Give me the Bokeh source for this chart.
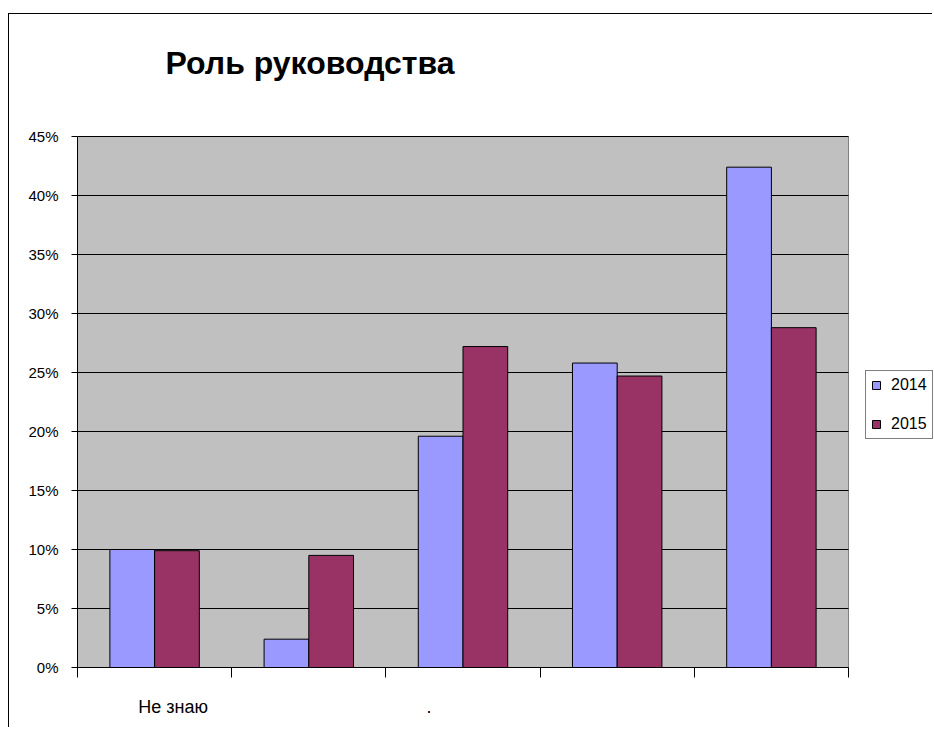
from bokeh.plotting import figure
from bokeh.models import (Range1d, FixedTicker, NumeralTickFormatter, Legend, LegendItem, Label)
from bokeh.embed import file_html
from bokeh.resources import INLINE

# ---- data ----
categories = ["Не знаю", "", ".", "", ""]
series_names = ["2014", "2015"]
values_2014 = [0.100, 0.024, 0.196, 0.258, 0.424]
values_2015 = [0.099, 0.095, 0.272, 0.247, 0.288]
y_ticks = [0, 0.05, 0.10, 0.15, 0.20, 0.25, 0.30, 0.35, 0.40, 0.45]
title_text = "Роль руководства"
# positions of the category labels (in category units)
label_positions = [0.62, 2.28]
label_texts = ["Не знаю", "."]

n = len(categories)
bar_w = 0.29
y_max = 0.45

# frame spans the plot area plus the title strip above and legend strip on the right
fig_w, fig_h = 924, 714
border_l, border_b = 68, 61
frame_w = fig_w - border_l
frame_h = fig_h - border_b
plot_area_w, plot_area_h = 771, 531
x_end = n * frame_w / plot_area_w
y_end = y_max * frame_h / plot_area_h

p = figure(width=fig_w, height=fig_h, output_backend="svg", toolbar_location=None,
           x_range=Range1d(0, x_end), y_range=Range1d(0, y_end),
           min_border_left=border_l, min_border_right=0, min_border_top=0,
           min_border_bottom=border_b, background_fill_color="white",
           border_fill_color="white", outline_line_color=None,
           margin=(13, 0, 0, 8))
p.styles = {"border-left": "1.5px solid black", "border-top": "1.5px solid black"}

# grey plot area
p.quad(left=[0], right=[n], bottom=[0], top=[y_max], fill_color="#C0C0C0",
       line_color="#808080", line_width=1, level="image")

# horizontal gridlines limited to the plot area
p.segment(x0=[0] * len(y_ticks), x1=[n] * len(y_ticks), y0=y_ticks, y1=y_ticks,
          line_color="black", line_width=1, level="underlay")

xs14 = [i + 0.5 - bar_w / 2 for i in range(n)]
xs15 = [i + 0.5 + bar_w / 2 for i in range(n)]
r14 = p.vbar(x=xs14, top=values_2014, width=bar_w, fill_color="#9999FF",
             line_color="black", line_width=1)
r15 = p.vbar(x=xs15, top=values_2015, width=bar_w, fill_color="#993366",
             line_color="black", line_width=1)

# y axis
p.yaxis.bounds = (0, y_max)
p.yaxis.ticker = FixedTicker(ticks=y_ticks)
p.yaxis.formatter = NumeralTickFormatter(format="0%")
p.yaxis.major_tick_in = 0
p.yaxis.major_tick_out = 6
p.yaxis.minor_tick_line_color = None
p.yaxis.axis_line_color = "black"
p.yaxis.major_label_text_font = "Liberation Sans"
p.yaxis.major_label_text_font_size = "15px"
p.yaxis.major_label_text_color = "black"
p.yaxis.major_label_standoff = 13

# x axis: labels at read positions, ticks at category boundaries
p.xaxis.bounds = (0, n)
p.xaxis.ticker = FixedTicker(ticks=label_positions, minor_ticks=list(range(n + 1)))
p.xaxis.major_label_overrides = {lp: t for lp, t in zip(label_positions, label_texts)}
p.xaxis.major_tick_line_color = None
p.xaxis.minor_tick_in = 0
p.xaxis.minor_tick_out = 10
p.xaxis.minor_tick_line_color = "black"
p.xaxis.axis_line_color = "black"
p.xaxis.major_label_text_font = "Liberation Sans"
p.xaxis.major_label_text_font_size = "18px"
p.xaxis.major_label_text_color = "black"
p.xaxis.major_label_standoff = 19

p.xgrid.visible = False
p.ygrid.visible = False

# title
title = Label(x=0, y=y_max, x_offset=88, y_offset=74, text=title_text,
              text_font="Liberation Sans", text_font_size="32px",
              text_font_style="bold", text_color="black",
              text_align="left", text_baseline="middle")
p.add_layout(title)

# legend (inside the widened frame, right of the grey plot area)
legend = Legend(items=[LegendItem(label=series_names[0], renderers=[r14]),
                       LegendItem(label=series_names[1], renderers=[r15])],
                location=(plot_area_w + 17, 228), orientation="vertical",
                glyph_width=10, glyph_height=10, label_height=16,
                label_standoff=10, spacing=21, padding=5, margin=0,
                label_text_font="Liberation Sans",
                label_text_font_size="16px", label_text_color="black",
                border_line_color="black", border_line_width=1,
                background_fill_color="white", background_fill_alpha=1)
p.add_layout(legend, "center")

open("out.html", "w").write(file_html(p, INLINE))
